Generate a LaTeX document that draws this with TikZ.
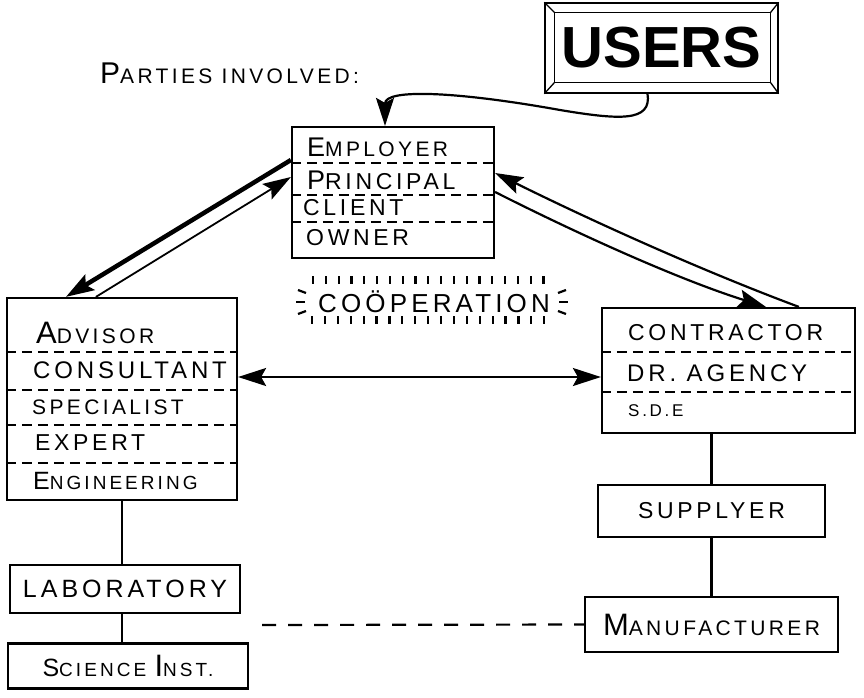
\documentclass[tikz,border=0pt]{standalone}
\usepackage{fontspec}
\newfontfamily\handfont[LetterSpace=16]{Liberation Sans}
\newfontfamily\blockfont{Liberation Sans}
\usetikzlibrary{arrows.meta,calc}

% letter size by point size, and a bigger first letter
\newcommand\lettersize[1]{\fontsize{#1}{#1}\selectfont}
\newcommand\initcap[4]{{\lettersize{#1}#2}{\lettersize{#3}#4}}

\begin{document}
\begin{tikzpicture}[x=1pt, y=-1pt, font=\handfont,
    box/.style={rectangle, draw, line width=2.2pt},
    entry/.style={anchor=west, inner sep=0pt},
    sep/.style={dash pattern=on 10pt off 6pt, line width=1.4pt},
    link/.style={line width=2.2pt},
    tick/.style={line width=2.2pt},
    >={Stealth[length=28pt,width=18pt,inset=5pt]}
]
    \useasboundingbox (0,0) rectangle (864,697);

    % parties
    \node[box, minimum width=202, minimum height=131] (employer) at (393,192.5) {};
    \node[box, minimum width=230, minimum height=202] (advisor) at (122,399) {};
    \node[box, minimum width=253, minimum height=125] (contractor) at (728.5,370.5) {};

    \node[box, minimum width=230, minimum height=48] (lab) at (125,589) {\lettersize{25}LABORATORY};
    \node[box, minimum width=240, minimum height=45] (science) at (128,666)
        {\initcap{25}{S}{19}{CIENCE }\initcap{31}{I}{19}{NST.}};
    \node[box, minimum width=227, minimum height=52] (supplyer) at (711.5,511) {\lettersize{23}SUPPLYER};
    \node[box, minimum width=253, minimum height=55] (manufacturer) at (711.5,624.5)
        {\initcap{31}{M}{21}{ANUFACTURER}};

    % employer rows
    \node[entry] (employer1) at (307,147) {\initcap{27}{E}{21}{MPLOYER}};
    \node[entry] (employer2) at (307,180) {\initcap{27}{P}{23}{RINCIPAL}};
    \node[entry] (employer3) at (303,208) {\lettersize{23}CLIENT};
    \node[entry] (employer4) at (306,238) {\lettersize{23}OWNER};
    \draw[sep] (employer.west |- 0,163) -- (employer.east |- 0,163);
    \draw[sep] (employer.west |- 0,195) -- (employer.east |- 0,195);
    \draw[sep] (employer.west |- 0,222) -- (employer.east |- 0,222);

    % advisor rows
    \node[entry] (advisor1) at (36,333) {\initcap{31}{A}{21}{DVISOR}};
    \node[entry] (advisor2) at (33,370) {\lettersize{24}CONSULTANT};
    \node[entry] (advisor3) at (32,407) {\lettersize{21}SPECIALIST};
    \node[entry] (advisor4) at (35,443) {\lettersize{23}EXPERT};
    \node[entry] (advisor5) at (33,481) {\initcap{25}{E}{19}{NGINEERING}};
    \draw[sep] (advisor.west |- 0,352) -- (advisor.east |- 0,352);
    \draw[sep] (advisor.west |- 0,390) -- (advisor.east |- 0,390);
    \draw[sep] (advisor.west |- 0,425) -- (advisor.east |- 0,425);
    \draw[sep] (advisor.west |- 0,463) -- (advisor.east |- 0,463);

    % contractor rows
    \node[entry] (contractor1) at (628,333) {\lettersize{23}CONTRACTOR};
    \node[entry] (contractor2) at (627,373) {\lettersize{24}DR. AGENCY};
    \node[entry] (contractor3) at (628,411) {\lettersize{17}S.D.E};
    \draw[sep] (contractor.west |- 0,352) -- (contractor.east |- 0,352);
    \draw[sep] (contractor.west |- 0,392) -- (contractor.east |- 0,392);

    % heading and users
    \node[entry] (parties) at (100,73) {\initcap{30}{P}{21}{ARTIES INVOLVED:}};
    \node[draw, line width=1.3pt, minimum width=233, minimum height=90] (users) at (661.5,48)
        {\blockfont\bfseries\lettersize{58}USERS};
    \draw[line width=1.3pt] ([shift={(10,10)}]users.north west) rectangle ([shift={(-8,-11)}]users.south east);
    \draw[line width=1.3pt] (users.north west) -- +(10,10);
    \draw[line width=1.3pt] (users.north east) -- +(-8,10);
    \draw[line width=1.3pt] (users.south west) -- +(10,-11);
    \draw[line width=1.3pt] (users.south east) -- +(-8,-11);

    % cooperation, with short strokes round it
    \node (coop) at (434,302) {\lettersize{26}CO\"OPERATION};
    \foreach \i in {0,...,18} {
        \draw[tick] ($(coop)+(-121+\i*12.8,-26)$) -- ++(0,8);
        \draw[tick] ($(coop)+(-122+\i*12.9,14)$) -- ++(0,8);
    }
    \draw[tick] ($(coop)+(-128,-9)$) -- ++(-8,-3);
    \draw[tick] ($(coop)+(-129,0)$) -- ++(-9,0);
    \draw[tick] ($(coop)+(-128,9)$) -- ++(-8,3);
    \draw[tick] ($(coop)+(124,-9)$) -- ++(8,-3);
    \draw[tick] ($(coop)+(125,0)$) -- ++(9,0);
    \draw[tick] ($(coop)+(124,9)$) -- ++(8,3);

    % connectors
    \draw[->, link] ($(users.south)+(-14,0)$) .. controls (652,122) and (620,120) .. (560,110)
        .. controls (460,92) and (385,88) .. (employer.north -| 385,0);
    \draw[->, line width=4.5pt] (employer.west |- 0,160) -- ($(advisor.north west)+(60,0)$);
    \draw[->, line width=1.8pt] ($(advisor.north west)+(90,0)$) -- (employer.west |- 0,177);
    \draw[<-, link] (employer.east |- 0,173) .. controls (590,220) and (700,270) .. ($(contractor.north west)+(198,0)$);
    \draw[->, link] (employer.east |- 0,192) .. controls (580,235) and (680,280) .. ($(contractor.north west)+(165,0)$);
    \draw[<->, link] (advisor.east |- 0,377) -- (contractor.west |- 0,377);

    \draw[link] (advisor.south) -- (advisor.south |- lab.north);
    \draw[link] (lab.south -| advisor.south) -- (science.north -| advisor.south);
    \draw[link] (contractor.south -| supplyer.north) -- (supplyer.north);
    \draw[link] (supplyer) -- (manufacturer);
    \coordinate (dashstart) at (262,625);
    \draw[link, dash pattern=on 14pt off 12pt] (dashstart) -- (manufacturer.west);
\end{tikzpicture}
\end{document}
